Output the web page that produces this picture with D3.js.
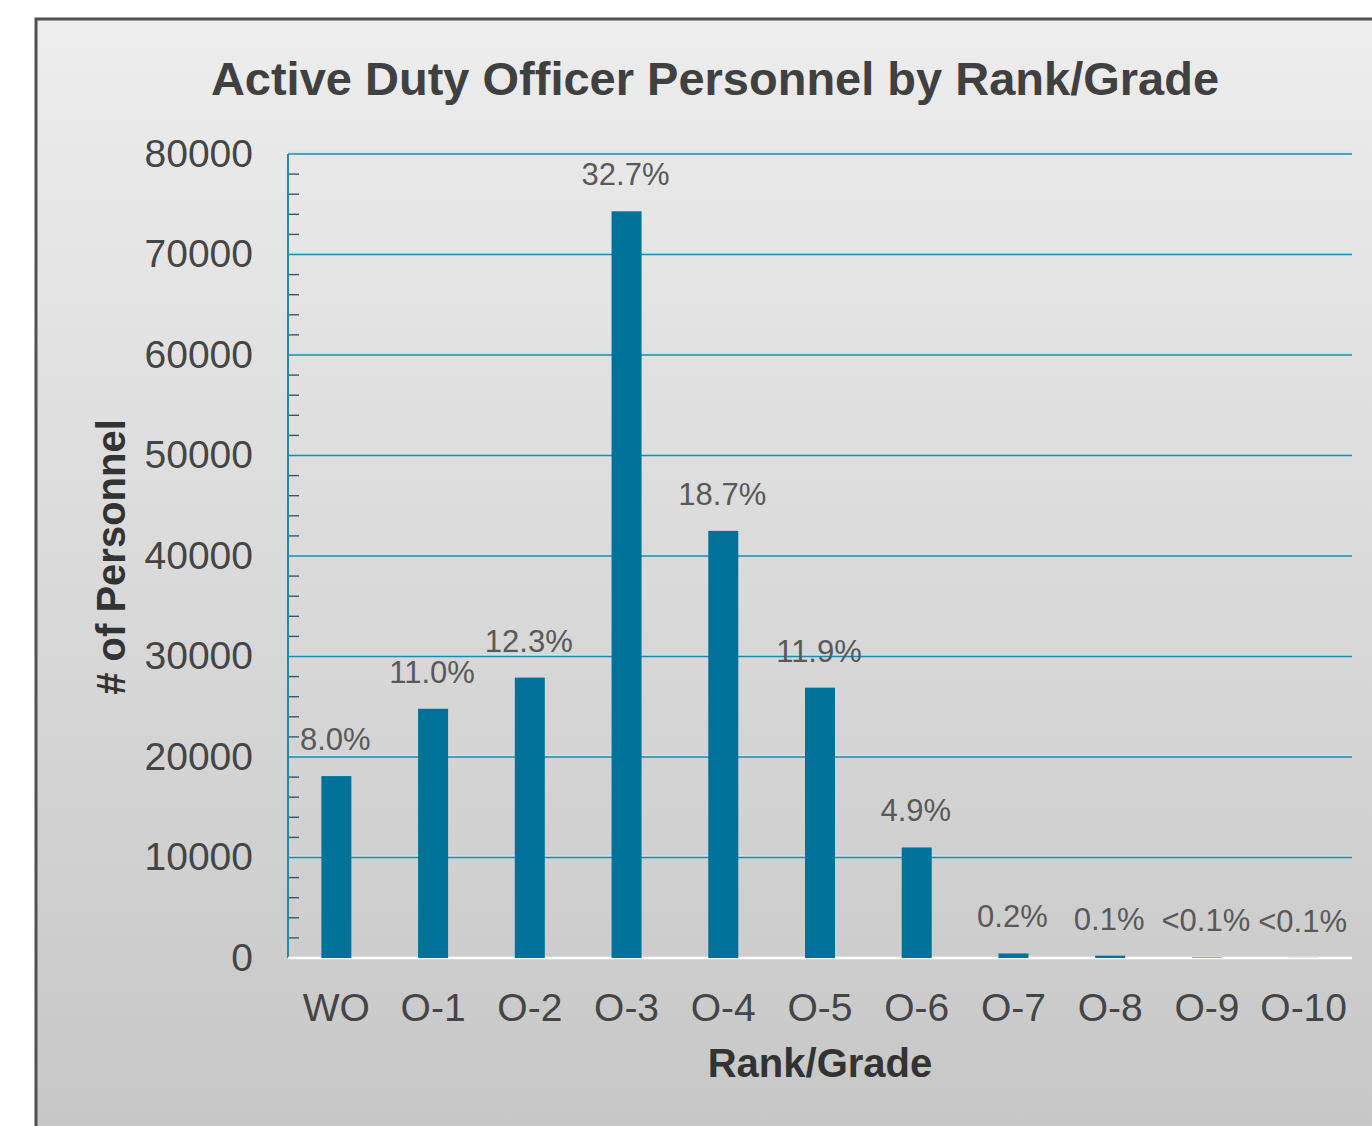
<!DOCTYPE html>
<html>
<head>
<meta charset="utf-8">
<script src="https://cdn.jsdelivr.net/npm/d3@7/dist/d3.min.js"></script>
<style>
  html, body { margin: 0; padding: 0; background: #fff; }
  svg { display: block; font-family: "Liberation Sans", Arial, sans-serif; }
</style>
</head>
<body>
<div id="chart"></div>
<script>
// data
var ranks = ['WO', 'O-1', 'O-2', 'O-3', 'O-4', 'O-5', 'O-6', 'O-7', 'O-8', 'O-9', 'O-10'];
var personnel = [18100, 24800, 27900, 74300, 42500, 26900, 11000, 450, 230, 50, 12];
var shares = ['8.0%', '11.0%', '12.3%', '32.7%', '18.7%', '11.9%', '4.9%', '0.2%', '0.1%', '<0.1%', '<0.1%'];
var yTicks = [0, 10000, 20000, 30000, 40000, 50000, 60000, 70000, 80000];

var W = 1372, H = 1126
	, m = {top: 154, right: 20, bottom: 168, left: 288}
	, pw = 1352 - m.left
	, ph = 958 - m.top
	;

var svg = d3.select('#chart').append('svg').attr('width', W).attr('height', H);

// frame + gradient background
var defs = svg.append('defs');
var grad = defs.append('linearGradient').attr('id', 'bg').attr('x1', 0).attr('y1', 0).attr('x2', 0).attr('y2', 1);
grad.append('stop').attr('offset', '0%').attr('stop-color', '#ededed');
grad.append('stop').attr('offset', '100%').attr('stop-color', '#c6c6c6');

svg.append('rect').attr('x', 36).attr('y', 19).attr('width', W + 10).attr('height', H + 10)
	.attr('fill', 'url(#bg)').attr('stroke', '#505050').attr('stroke-width', 3);

var x = d3.scaleBand().domain(ranks).range([0, pw]).paddingInner(0.69).paddingOuter(0.345);
var y = d3.scaleLinear().domain([0, 80000]).range([ph, 0]);

var g = svg.append('g').attr('transform', 'translate(' + m.left + ',' + m.top + ')');

// gridlines (light halo + dark teal line)
g.selectAll('line.halo').data(yTicks.filter(function(d){ return d > 0; })).enter().append('line')
	.attr('class', 'halo')
	.attr('x1', 0).attr('x2', pw).attr('y1', function(d){ return y(d) - 1.5; }).attr('y2', function(d){ return y(d) - 1.5; })
	.attr('stroke', '#bfeaf6').attr('stroke-width', 1.5);
g.selectAll('line.grid').data(yTicks.filter(function(d){ return d > 0; })).enter().append('line')
	.attr('class', 'grid')
	.attr('x1', 0).attr('x2', pw).attr('y1', function(d){ return y(d); }).attr('y2', function(d){ return y(d); })
	.attr('stroke', '#2587aa').attr('stroke-width', 1.6);

// minor ticks every 2000
var minor = d3.range(2000, 80000, 2000).filter(function(d){ return d % 10000 !== 0; });
g.selectAll('line.minor').data(minor).enter().append('line')
	.attr('class', 'minor')
	.attr('x1', 1).attr('x2', 11).attr('y1', function(d){ return y(d); }).attr('y2', function(d){ return y(d); })
	.attr('stroke', '#2f5a6e').attr('stroke-width', 1.4);

// y axis line
g.append('line').attr('x1', 0).attr('x2', 0).attr('y1', 0).attr('y2', ph)
	.attr('stroke', '#2587aa').attr('stroke-width', 2);

// zero line
g.append('line').attr('x1', 0).attr('x2', pw).attr('y1', ph).attr('y2', ph)
	.attr('stroke', '#ffffff').attr('stroke-width', 2.5);

// bars
g.selectAll('rect.bar').data(personnel).enter().append('rect')
	.attr('class', 'bar')
	.attr('x', function(d, i){ return x(ranks[i]); })
	.attr('y', function(d){ return y(d); })
	.attr('width', x.bandwidth())
	.attr('height', function(d){ return ph - y(d); })
	.attr('fill', '#00729a');

// percent labels
g.selectAll('text.pct').data(shares).enter().append('text')
	.attr('class', 'pct')
	.attr('x', function(d, i){ return x(ranks[i]) + x.bandwidth() / 2 - 1; })
	.attr('y', function(d, i){ return y(personnel[i]) - 26; })
	.attr('text-anchor', 'middle')
	.attr('font-size', 31).attr('fill', '#595959')
	.text(function(d){ return d; });

// y tick labels
var yAxis = d3.axisLeft(y).tickValues(yTicks).tickSize(0).tickPadding(35).tickFormat(d3.format('d'));
var ya = g.append('g').call(yAxis);
ya.select('.domain').remove();
ya.selectAll('text').attr('font-size', 39).attr('fill', '#454545').attr('font-family', null);

// x tick labels
var xAxis = d3.axisBottom(x).tickSize(0).tickPadding(35);
var xa = g.append('g').attr('transform', 'translate(0,' + ph + ')').call(xAxis);
xa.select('.domain').remove();
xa.selectAll('text').attr('font-size', 39).attr('fill', '#454545').attr('font-family', null);

// titles
svg.append('text').attr('x', 715).attr('y', 95).attr('text-anchor', 'middle')
	.attr('font-size', 47).attr('font-weight', 'bold').attr('fill', '#404040')
	.text('Active Duty Officer Personnel by Rank/Grade');

svg.append('text').attr('x', 820).attr('y', 1077).attr('text-anchor', 'middle')
	.attr('font-size', 40).attr('font-weight', 'bold').attr('fill', '#333333')
	.text('Rank/Grade');

svg.append('text').attr('transform', 'translate(125,557) rotate(-90)').attr('text-anchor', 'middle')
	.attr('font-size', 40).attr('font-weight', 'bold').attr('fill', '#333333')
	.text('# of Personnel');
</script>
</body>
</html>
